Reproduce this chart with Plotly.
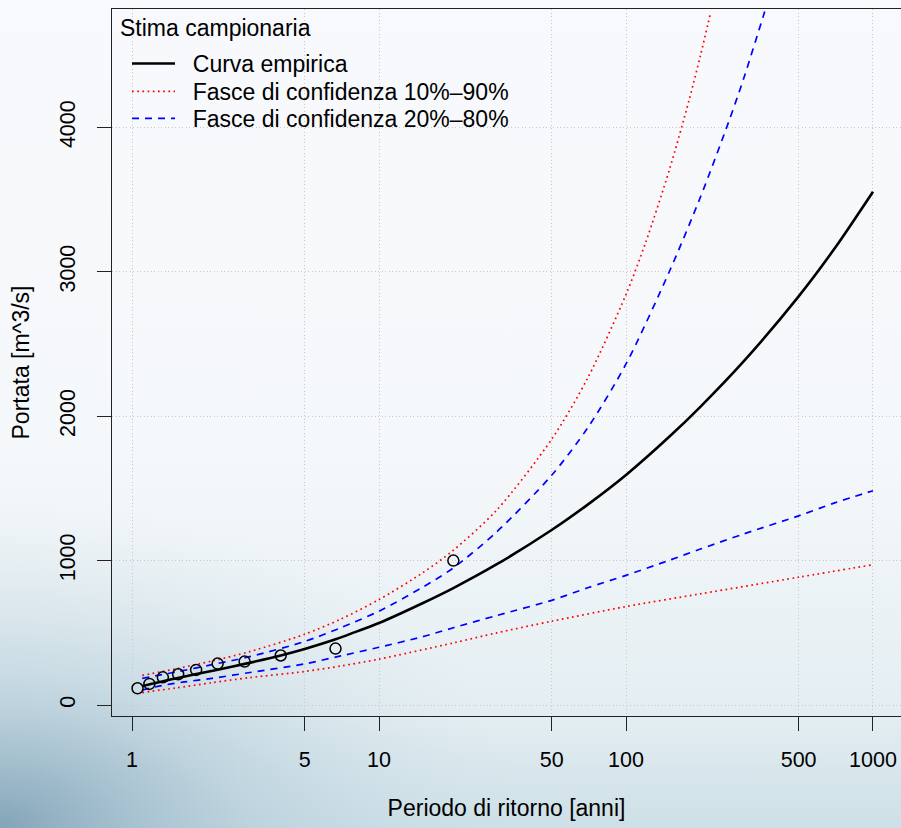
import base64
import plotly.graph_objects as go

# ---- data ----
T_obs = [1.053, 1.176, 1.333, 1.538, 1.818, 2.222, 2.857, 4.0, 6.667, 20.0]
Q_obs = [116, 146, 192, 213, 243, 287, 301, 343, 391, 1000]

T_emp = [1.1, 1.2, 1.35, 1.5, 1.8, 2.2, 2.86, 4, 5, 6.67, 8, 10, 15, 20, 30, 50, 70, 100, 150, 200, 300, 500, 700, 1000]
Q_emp = [130, 147, 167, 184, 213, 243, 285, 343, 388, 455, 505, 568, 705, 810, 975, 1212, 1388, 1593, 1859, 2065, 2381, 2830, 3163, 3555]

T_r_up = [1.1, 1.5, 2.11, 3, 5, 7, 10, 15, 20, 30, 50, 70, 100, 120, 150, 180, 200, 220]
Q_r_up = [205, 250, 305, 370, 490, 595, 730, 915, 1072, 1351, 1840, 2265, 2843, 3201, 3709, 4188, 4495, 4793]

T_r_lo = [1.1, 1.5, 2.11, 3, 5, 7, 10, 20, 30, 50, 100, 200, 500, 1000]
Q_r_lo = [86, 118, 155, 190, 232, 270, 318, 430, 500, 580, 682, 770, 885, 972]

T_b_up = [1.1, 1.5, 2.11, 3, 5, 7, 10, 15, 20, 30, 50, 70, 100, 150, 200, 260, 300, 360, 380]
Q_b_up = [185, 228, 280, 335, 440, 535, 650, 815, 950, 1200, 1591, 1920, 2362, 3004, 3516, 4035, 4342, 4773, 4900]

T_b_lo = [1.1, 1.32, 1.6, 2.11, 3, 5, 7, 10, 15, 20, 30, 50, 70, 100, 150, 200, 300, 500, 700, 1000]
Q_b_lo = [104, 135, 158, 185, 225, 285, 340, 400, 473, 535, 620, 725, 812, 898, 1003, 1080, 1185, 1310, 1400, 1484]

x_ticks = [1, 5, 10, 50, 100, 500, 1000]
y_ticks = [0, 1000, 2000, 3000, 4000]

FONT = "Liberation Sans, Arial, Helvetica, sans-serif"
TXT = 23
TICK = 21.5
SP = "\u00a0\u00a0"

RED = dict(color="#ff0000", width=1.7, dash="1.7px,3.5px", shape="spline", smoothing=0.8)
BLUE = dict(color="#0000ff", width=1.7, dash="7px,6px", shape="spline", smoothing=0.8)

fig = go.Figure()
fig.add_trace(go.Scatter(x=T_emp, y=Q_emp, mode="lines", name=SP + "Curva empirica", legend="legend",
                         line=dict(color="black", width=2.6, shape="spline", smoothing=0.8)))
fig.add_trace(go.Scatter(x=T_r_up, y=Q_r_up, mode="lines", name=SP + "Fasce di confidenza 10%\u201390%",
                         legend="legend2", line=RED))
fig.add_trace(go.Scatter(x=T_b_up, y=Q_b_up, mode="lines", name=SP + "Fasce di confidenza 20%\u201380%",
                         legend="legend3", line=BLUE))
fig.add_trace(go.Scatter(x=T_r_lo, y=Q_r_lo, mode="lines", showlegend=False, legend="legend2", line=RED))
fig.add_trace(go.Scatter(x=T_b_lo, y=Q_b_lo, mode="lines", showlegend=False, legend="legend3", line=BLUE))
fig.add_trace(go.Scatter(x=T_obs, y=Q_obs, mode="markers", showlegend=False,
                         marker=dict(symbol="circle-open", size=11, color="black", line=dict(width=1.5))))

# background gradient (decorative)
svg = """<svg xmlns='http://www.w3.org/2000/svg' width='901' height='828' viewBox='0 0 901 828' preserveAspectRatio='none'>
<defs>
<linearGradient id='g1' x1='0' y1='0' x2='0' y2='1'>
<stop offset='0' stop-color='#f8f9fc'/>
<stop offset='0.55' stop-color='#f5f8fa'/>
<stop offset='0.86' stop-color='#e4eef2'/>
<stop offset='1' stop-color='#cddfe7'/>
</linearGradient>
<radialGradient id='g2' gradientUnits='userSpaceOnUse' cx='0' cy='828' r='330' gradientTransform='translate(0 828) scale(1.6 1) translate(0 -828)'>
<stop offset='0' stop-color='#7a9eb3' stop-opacity='0.9'/>
<stop offset='0.45' stop-color='#a8c4d2' stop-opacity='0.5'/>
<stop offset='1' stop-color='#d0e1e8' stop-opacity='0'/>
</radialGradient>
</defs>
<rect x='0' y='0' width='901' height='828' fill='url(#g1)'/>
<rect x='0' y='0' width='901' height='828' fill='url(#g2)'/>
</svg>"""
src = "data:image/svg+xml;base64," + base64.b64encode(svg.encode()).decode()

L, R, T, B = 112, 0, 9, 112
W, H = 901, 828
pw, ph = W - L - R, H - T - B
fig.add_layout_image(dict(source=src, xref="paper", yref="paper",
                          x=-L / pw, y=1 + T / ph, sizex=W / pw, sizey=H / ph,
                          xanchor="left", yanchor="top", sizing="stretch", layer="below"))

# legend title
fig.add_annotation(text="Stima campionaria", xref="paper", yref="paper",
                   x=(118 - L) / pw, y=1 - (28 - T) / ph, xanchor="left", yanchor="middle",
                   showarrow=False, font=dict(size=TXT, color="black"))


def leg(top_px):
    return dict(x=(127 - L) / pw, y=1 - (top_px - T) / ph, xanchor="left", yanchor="top",
                bgcolor="rgba(0,0,0,0)", font=dict(size=TXT), itemwidth=43)


fig.update_layout(
    width=W, height=H,
    margin=dict(l=L, r=R, t=T, b=B, pad=0),
    paper_bgcolor="rgba(0,0,0,0)", plot_bgcolor="rgba(0,0,0,0)",
    font=dict(family=FONT, size=TXT, color="black"),
    showlegend=True,
    legend=leg(42), legend2=leg(70), legend3=leg(97),
)
fig.update_xaxes(type="log", range=[-0.081, 3.1134], tickvals=x_ticks, ticktext=[str(v) for v in x_ticks],
                 showline=True, linecolor="#222", linewidth=1.4, mirror=True,
                 ticks="outside", ticklen=14, tickwidth=1.3, tickcolor="#222", ticklabelstandoff=10,
                 showgrid=True, gridcolor="#c8c8c8", griddash="1px,2.5px", gridwidth=1, zeroline=False,
                 title=dict(text="Periodo di ritorno [anni]", standoff=28, font=dict(size=TXT)),
                 tickfont=dict(size=TICK))
fig.update_yaxes(range=[-76, 4820], tickvals=y_ticks, ticktext=[str(v) for v in y_ticks], tickangle=-90,
                 showline=True, linecolor="#222", linewidth=1.4, mirror=False,
                 ticks="outside", ticklen=14, tickwidth=1.3, tickcolor="#222", ticklabelstandoff=13,
                 showgrid=True, gridcolor="#c8c8c8", griddash="1px,2.5px", gridwidth=1, zeroline=False,
                 title=dict(text="Portata [m^3/s]", standoff=20, font=dict(size=TXT)),
                 tickfont=dict(size=TICK))

fig.write_html("out.html")
